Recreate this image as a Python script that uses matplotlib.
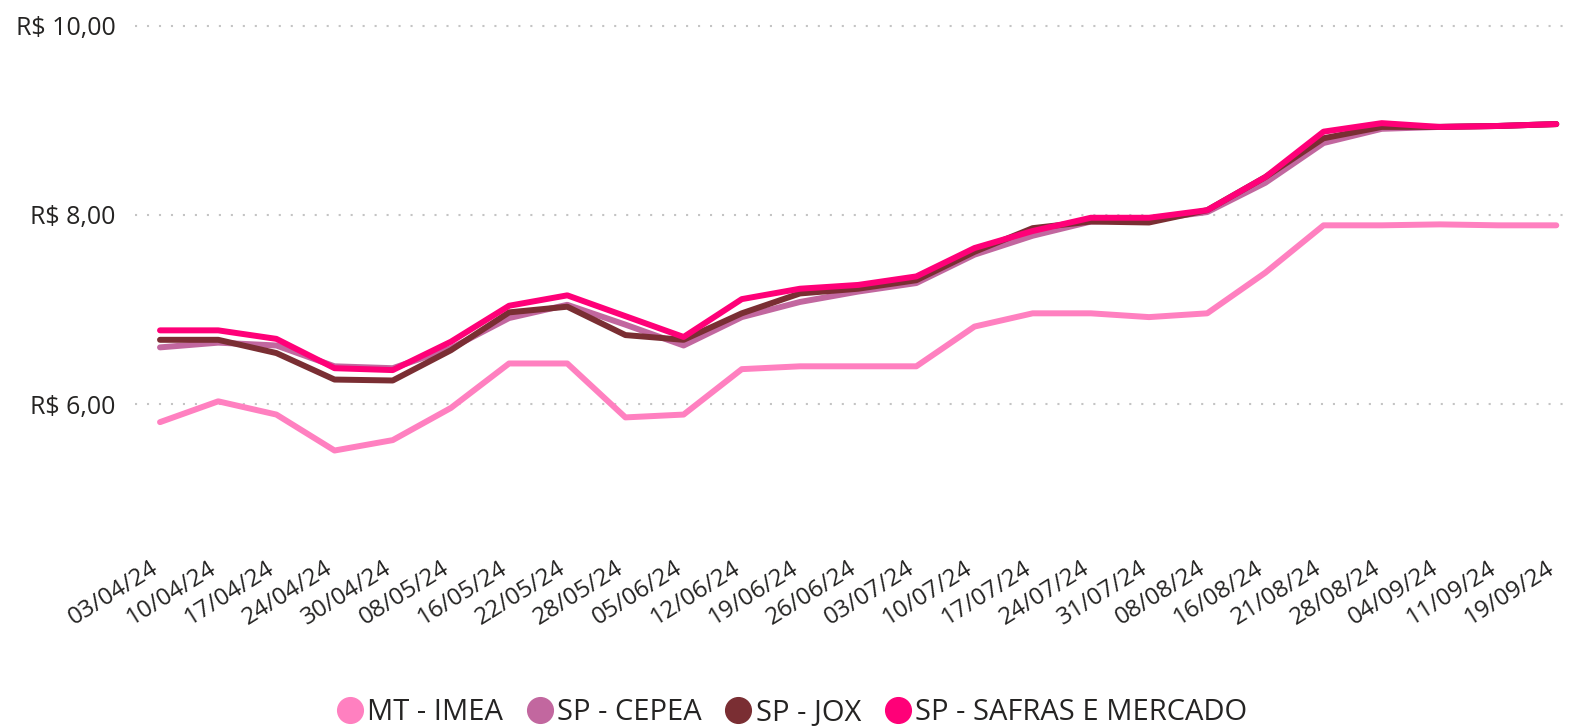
import numpy as np
import matplotlib
matplotlib.use("Agg")
import matplotlib.pyplot as plt
import matplotlib.transforms as mtrans
from matplotlib.lines import Line2D

datas = ["03/04/24", "10/04/24", "17/04/24", "24/04/24", "30/04/24", "08/05/24",
         "16/05/24", "22/05/24", "28/05/24", "05/06/24", "12/06/24", "19/06/24",
         "26/06/24", "03/07/24", "10/07/24", "17/07/24", "24/07/24", "31/07/24",
         "08/08/24", "16/08/24", "21/08/24", "28/08/24", "04/09/24", "11/09/24",
         "19/09/24"]

mt_imea = [5.81, 6.03, 5.89, 5.51, 5.62, 5.96, 6.43, 6.43, 5.86, 5.89, 6.37, 6.40,
           6.40, 6.40, 6.82, 6.96, 6.96, 6.92, 6.96, 7.39, 7.89, 7.89, 7.90, 7.89, 7.89]
sp_cepea = [6.60, 6.65, 6.62, 6.40, 6.38, 6.59, 6.91, 7.05, 6.84, 6.62, 6.92, 7.08,
            7.19, 7.28, 7.58, 7.78, 7.93, 7.95, 8.03, 8.34, 8.76, 8.91, 8.93, 8.94, 8.96]
sp_jox = [6.68, 6.68, 6.54, 6.26, 6.25, 6.57, 6.97, 7.03, 6.73, 6.68, 6.96, 7.17,
          7.22, 7.31, 7.61, 7.86, 7.93, 7.92, 8.05, 8.40, 8.81, 8.93, 8.93, 8.94, 8.96]
sp_safras = [6.78, 6.78, 6.69, 6.38, 6.36, 6.66, 7.04, 7.15, 6.93, 6.71, 7.11, 7.22,
             7.26, 7.35, 7.65, 7.83, 7.97, 7.97, 8.05, 8.40, 8.88, 8.97, 8.93, 8.94, 8.96]

series = [("MT - IMEA", mt_imea, "#FF80C0"),
          ("SP - CEPEA", sp_cepea, "#C2679F"),
          ("SP - JOX", sp_jox, "#7A2E33"),
          ("SP - SAFRAS E MERCADO", sp_safras, "#FF0078")]

plt.rcParams["font.family"] = ["Open Sans", "DejaVu Sans"]
txt = "#252423"

fig = plt.figure(figsize=(15.7, 7.27), dpi=100)
ax = fig.add_axes([135 / 1570, 1 - 530 / 727, 1430 / 1570, 510 / 727])

x = np.arange(len(datas))
for nome, vals, cor in series:
    ax.plot(x, vals, color=cor, lw=4.3, solid_joinstyle="round", solid_capstyle="round")

ax.set_xlim(-0.43, 24.15)
ax.set_ylim(4.67, 10.06)
ax.set_yticks([6, 8, 10])
ax.set_yticklabels(["R$ 6,00", "R$ 8,00", "R$ 10,00"], fontsize=18, color=txt)
ax.grid(axis="y", linestyle=(0, (1, 4.75)), color="#c4c4c4", lw=1.5)
ax.set_axisbelow(True)
for s in ax.spines.values():
    s.set_visible(False)
ax.tick_params(length=0)
ax.tick_params(axis="y", pad=14)

ax.set_xticks(x)
ax.set_xticklabels(datas, rotation=32, ha="right", va="top", rotation_mode="anchor",
                   fontsize=17.5, color=txt)
ax.tick_params(axis="x", pad=19)
desloc = mtrans.ScaledTranslation(-10 / 100, 0, fig.dpi_scale_trans)
for lab in ax.get_xticklabels():
    lab.set_transform(lab.get_transform() + desloc)

handles = [Line2D([], [], marker="o", ls="", ms=18.5, color=c, mec=c) for _, _, c in series]
fig.legend(handles, [s[0] for s in series], loc="center", bbox_to_anchor=(0.5035, 1 - 713 / 727),
           ncol=4, frameon=False, fontsize=21, handletextpad=0.05, columnspacing=0.7,
           handlelength=1.1, labelcolor=txt)

fig.savefig("out.png", dpi=100)
